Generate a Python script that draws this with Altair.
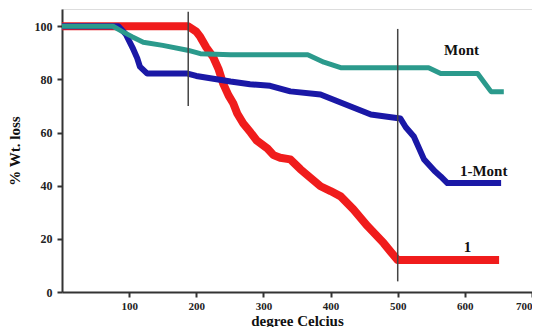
import altair as alt
import pandas as pd

# Series 1 (red)
x_one = [0, 188, 200, 206, 215, 225, 233, 240, 248, 255, 261, 270, 281, 290, 306,
         315, 325, 340, 355, 370, 385, 400, 415, 434, 455, 479, 490, 500, 651]
y_one = [100, 100, 98, 96, 92, 88.5, 84, 78.4, 74, 71, 67.2, 63.4, 60, 57, 54,
         51.5, 50.5, 49.9, 46.2, 43, 39.8, 38, 36, 31.1, 24.8, 18.4, 15, 12, 12]

# Series 1-Mont (blue)
x_onemont = [0, 84, 95, 105, 112, 116, 127, 187, 200, 251, 280, 310, 340, 385, 430,
             460, 490, 504, 512, 524, 539, 555, 564, 574, 654]
y_onemont = [100, 100, 97, 92, 88, 84.8, 82.2, 82.2, 81.3, 79.2, 78.2, 77.6, 75.5, 74.3, 69.8,
             66.8, 65.8, 65.3, 62, 58.5, 50, 45.5, 43.5, 41, 41]

# Series Mont (teal)
x_mont = [0, 76, 90, 105, 121, 150, 187, 206, 251, 366, 390, 415, 546, 564, 619, 630, 639, 658]
y_mont = [100, 100, 98, 96, 94, 92.8, 91, 89.7, 89.3, 89.3, 86.5, 84.4, 84.4, 82.2, 82.2, 78.5, 75.4, 75.4]

# Marker lines
vline_x = [188, 500]
vline_y1 = [70, 4]
vline_y2 = [105.5, 99]

labels = ["Mont", "1-Mont", "1"]
label_x = [595, 628, 604]
label_y = [91, 45.4, 17]

df_one = pd.DataFrame({"x": x_one, "y": y_one})
df_onemont = pd.DataFrame({"x": x_onemont, "y": y_onemont})
df_mont = pd.DataFrame({"x": x_mont, "y": y_mont})
df_v = pd.DataFrame({"x": vline_x, "y1": vline_y1, "y2": vline_y2})
df_lab = pd.DataFrame({"t": labels, "x": label_x, "y": label_y})

FONT = "Liberation Serif"

xscale = alt.Scale(domain=[0, 700], nice=False, zero=False)
yscale = alt.Scale(domain=[0, 106.5], nice=False, zero=False)

xaxis = alt.Axis(values=[100, 200, 300, 400, 500, 600, 700], title="degree Celcius",
                 grid=False, domainColor="#333", domainWidth=2, tickColor="#333",
                 tickWidth=2, tickSize=5, labelFont=FONT, labelFontWeight="bold",
                 labelFontSize=11, labelColor="#222", labelPadding=3,
                 titleFont=FONT, titleFontWeight="bold", titleFontSize=15,
                 titleColor="#111", titlePadding=2)
yaxis = alt.Axis(values=[0, 20, 40, 60, 80, 100], title="% Wt. loss",
                 grid=False, domainColor="#333", domainWidth=2, tickColor="#333",
                 tickWidth=2, tickSize=5, labelFont=FONT, labelFontWeight="bold",
                 labelFontSize=12, labelColor="#222", labelPadding=5,
                 titleFont=FONT, titleFontWeight="bold", titleFontSize=15,
                 titleColor="#111", titlePadding=12)

base_x = alt.X("x:Q", scale=xscale, axis=xaxis)
base_y = alt.Y("y:Q", scale=yscale, axis=yaxis)

red = alt.Chart(df_one).mark_line(color="#f01c1c", strokeWidth=8, strokeJoin="round").encode(
    x=base_x, y=base_y, order="x:Q")
blue = alt.Chart(df_onemont).mark_line(color="#1a18a6", strokeWidth=6, strokeJoin="round").encode(
    x="x:Q", y="y:Q", order="x:Q")
teal = alt.Chart(df_mont).mark_line(color="#2b9a8c", strokeWidth=5, strokeJoin="round").encode(
    x="x:Q", y="y:Q", order="x:Q")
vlines = alt.Chart(df_v).mark_rule(color="#444", strokeWidth=1.5).encode(
    x="x:Q", y="y1:Q", y2="y2:Q")
text = alt.Chart(df_lab).mark_text(font=FONT, fontWeight="bold", fontSize=15, color="#111").encode(
    x="x:Q", y="y:Q", text="t:N")

chart = alt.layer(red, blue, teal, vlines, text).properties(
    width=470, height=283,
    autosize=alt.AutoSizeParams(type="none"),
    padding={"left": 54, "top": 1, "right": 0, "bottom": 35},
).configure_view(stroke=None).configure(background="white")

chart.save("out.html", embed_options={"renderer": "svg", "actions": False})
